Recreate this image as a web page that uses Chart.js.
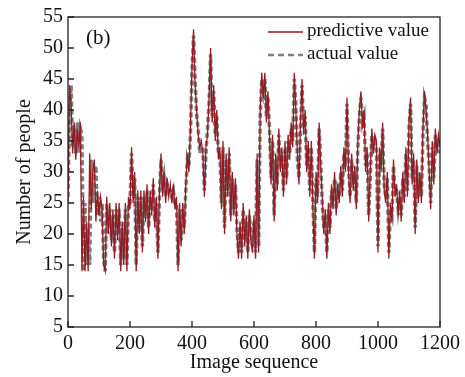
<!DOCTYPE html>
<html>
<head>
<meta charset="utf-8">
<script src="https://cdn.jsdelivr.net/npm/chart.js@4.4.1/dist/chart.umd.min.js"></script>
<style>
  html, body { margin: 0; padding: 0; background: #fff; }
  #wrap { width: 465px; height: 377px; }
</style>
</head>
<body>
<div id="wrap"><canvas id="chart" width="465" height="377"></canvas></div>
<script>
// Data (one value every 5 images)
const sampleStep = 5;
const seriesNames = ['predictive value', 'actual value'];
const xTicks = [0, 200, 400, 600, 800, 1000, 1200];
const yTicks = [5, 10, 15, 20, 25, 30, 35, 40, 45, 50, 55];

const predictive = [
  25,44,41,33,38,32,37,34,38,14,
  26,14,22,14,33,24,30,32,22,27,
  23,26,24,15,14,26,20,25,18,24,
  16,25,19,25,14,22,15,25,14,26,
  24,34,25,30,14,27,20,27,17,27,
  22,28,20,27,23,29,21,26,16,27,
  33,26,30,25,29,26,28,25,28,24,
  26,14,25,18,25,20,28,33,30,37,
  47,53,44,40,36,34,35,33,26,34,
  36,42,50,38,44,35,40,32,34,24,
  35,20,33,26,34,22,30,23,29,20,
  16,22,16,25,18,23,16,24,19,17,
  23,16,33,17,40,46,42,46,38,43,
  36,28,36,22,33,27,37,30,34,26,
  35,28,36,32,38,34,46,40,33,28,
  38,45,36,40,30,35,26,35,24,16,
  30,25,38,31,26,20,24,16,25,20,
  28,24,30,23,28,25,31,26,34,30,
  42,30,25,33,27,31,24,35,40,43,
  37,40,30,34,22,30,37,33,36,35,
  17,34,30,38,27,25,30,16,25,22,
  32,26,28,23,27,22,30,25,34,26,
  38,42,28,33,20,32,25,30,25,37,
  43,40,36,30,24,35,28,37,33,36,
  34
];

const actual = [
  26,40,44,34,37,33,38,33,37,36,
  14,25,15,21,15,32,25,29,31,23,
  26,22,25,16,14,25,21,24,19,23,
  17,24,20,24,15,21,16,24,15,25,
  25,33,26,29,15,26,21,26,18,26,
  23,27,21,26,24,28,22,25,17,26,
  32,27,29,26,28,27,27,26,27,25,
  25,15,24,19,24,21,27,32,31,36,
  46,52,45,39,37,33,34,34,27,33,
  37,41,49,39,43,36,39,33,33,25,
  34,21,32,27,33,23,29,24,28,21,
  17,21,17,24,19,22,17,23,20,18,
  22,17,32,18,39,45,43,45,39,42,
  37,29,35,23,32,28,36,31,33,27,
  34,29,35,33,37,35,45,41,32,29,
  37,44,37,39,31,34,27,34,25,17,
  29,26,37,32,25,21,23,17,24,21,
  27,25,29,24,27,26,30,27,33,31,
  41,31,26,32,28,30,25,34,39,42,
  38,39,31,33,23,29,36,34,35,34,
  18,33,31,37,28,26,29,17,24,23,
  31,27,27,24,26,23,29,26,33,27,
  37,41,29,32,21,31,26,29,26,36,
  42,41,35,31,25,34,29,36,34,35,
  33
];

const RED = '#931b21';
const GRAY = '#7f7f7f';
const FONT = "'Liberation Serif', 'DejaVu Serif', serif";

function toPoints(values) {
  return values.map((v, i) => ({ x: i * sampleStep, y: v }));
}

// frame, inward ticks, legend and panel label
const decorPlugin = {
  id: 'decor',
  afterDraw(chart) {
    const ctx = chart.ctx;
    const area = chart.chartArea;
    const xs = chart.scales.x;
    const ys = chart.scales.y;
    ctx.save();
    ctx.strokeStyle = '#222';
    ctx.lineWidth = 1.3;
    ctx.strokeRect(area.left, area.top, area.right - area.left, area.bottom - area.top);

    ctx.beginPath();
    xTicks.forEach(t => {
      const px = xs.getPixelForValue(t);
      ctx.moveTo(px, area.bottom);
      ctx.lineTo(px, area.bottom - 6);
    });
    yTicks.forEach(t => {
      const py = ys.getPixelForValue(t);
      ctx.moveTo(area.left, py);
      ctx.lineTo(area.left + 6, py);
    });
    ctx.stroke();

    // legend
    const lx1 = 268, lx2 = 303;
    ctx.lineWidth = 1.6;
    ctx.strokeStyle = RED;
    ctx.beginPath();
    ctx.moveTo(lx1, 32);
    ctx.lineTo(lx2, 32);
    ctx.stroke();
    ctx.lineWidth = 2.4;
    ctx.strokeStyle = GRAY;
    ctx.setLineDash([6, 4]);
    ctx.beginPath();
    ctx.moveTo(lx1, 55);
    ctx.lineTo(lx2, 55);
    ctx.stroke();
    ctx.setLineDash([]);

    ctx.fillStyle = '#111';
    ctx.font = '19px ' + FONT;
    ctx.textBaseline = 'middle';
    ctx.textAlign = 'left';
    ctx.fillText(seriesNames[0], 307, 31);
    ctx.fillText(seriesNames[1], 307, 54);

    ctx.font = '21px ' + FONT;
    ctx.fillText('(b)', 86, 38);
    ctx.restore();
  }
};

const ctx = document.getElementById('chart');
new Chart(ctx, {
  type: 'line',
  data: {
    datasets: [
      {
        label: seriesNames[0],
        data: toPoints(predictive),
        borderColor: RED,
        borderWidth: 1.3,
        pointRadius: 0,
        tension: 0,
        fill: false
      },
      {
        label: seriesNames[1],
        data: toPoints(actual),
        borderColor: GRAY,
        borderWidth: 3.5,
        borderDash: [5, 3],
        pointRadius: 0,
        tension: 0,
        fill: false
      }
    ]
  },
  options: {
    responsive: false,
    animation: false,
    layout: { padding: { top: 17, right: 24, left: 0, bottom: 0 } },
    plugins: {
      legend: { display: false },
      tooltip: { enabled: false }
    },
    scales: {
      x: {
        type: 'linear',
        min: 0,
        max: 1200,
        afterBuildTicks: (s) => { s.ticks = xTicks.map(v => ({ value: v })); },
        afterFit: (s) => { s.height = 50; },
        grid: { display: false, drawTicks: false },
        border: { display: false },
        ticks: {
          padding: 5,
          color: '#111',
          maxRotation: 0,
          callback: (v) => String(v),
          font: { family: FONT, size: 20 }
        },
        title: {
          display: true,
          text: 'Image sequence',
          color: '#111',
          padding: { top: 0, bottom: 2 },
          font: { family: FONT, size: 20 }
        }
      },
      y: {
        min: 5,
        max: 55,
        afterBuildTicks: (s) => { s.ticks = yTicks.map(v => ({ value: v })); },
        afterFit: (s) => { s.width = 68; },
        grid: { display: false, drawTicks: false },
        border: { display: false },
        ticks: {
          padding: 5,
          color: '#111',
          callback: (v) => String(v),
          font: { family: FONT, size: 20 }
        },
        title: {
          display: true,
          text: 'Number of people',
          color: '#111',
          padding: { top: 13, bottom: 0 },
          font: { family: FONT, size: 20 }
        }
      }
    }
  },
  plugins: [decorPlugin]
});
</script>
</body>
</html>
